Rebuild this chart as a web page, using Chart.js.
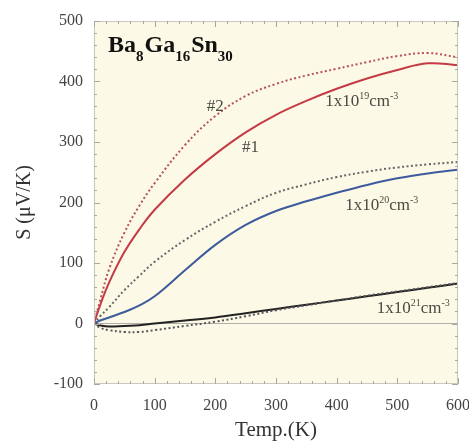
<!DOCTYPE html>
<html>
<head>
<meta charset="utf-8">
<script src="https://cdn.jsdelivr.net/npm/chart.js@4"></script>
<style>
  html, body { margin: 0; padding: 0; background: #fff; }
  #wrap { width: 469px; height: 445px; }
</style>
</head>
<body>
<div id="wrap"><canvas id="myChart" width="469" height="445"></canvas></div>
<script>
var temps = [0, 10, 25, 50, 75, 100, 150, 200, 250, 300, 350, 400, 450, 500, 550, 600];
var s19_1 = [0, 30, 68, 118, 156, 188, 238, 280, 316, 345, 368, 388, 405, 419, 430, 427];
var s19_2 = [0, 38, 90, 150, 195, 232, 295, 343, 376, 396, 410, 421, 432, 442, 447, 440];
var s20_1 = [0, 5, 10, 19, 30, 45, 88, 130, 163, 186, 202, 216, 229, 240, 248, 254];
var s20_2 = [0, 12, 27, 55, 79, 102, 138, 168, 194, 216, 230, 242, 251, 258, 263, 267];
var s21_1 = [0, -3, -5, -4, -3, 0, 5, 10, 17, 24, 31, 38, 45, 52, 59, 66];
var s21_2 = [0, -7, -11, -14, -14, -11, -4, 3, 12, 22, 30, 38, 46, 53, 60, 67];
var yTicks = [-100, 0, 100, 200, 300, 400, 500];
var xTicks = [0, 100, 200, 300, 400, 500, 600];

function pts(vals) {
  return temps.map(function (t, i) { return { x: t, y: vals[i] }; });
}

var serif = "'Liberation Serif', 'DejaVu Serif', serif";

// frame, background, inward ticks, title and curve labels
var decor = {
  id: "decor",
  beforeDraw: function (chart) {
    var a = chart.chartArea, c = chart.ctx;
    c.save();
    c.fillStyle = "#fcfae6";
    c.fillRect(a.left, a.top, a.right - a.left, a.bottom - a.top);
    c.restore();
  },
  afterDatasetsDraw: function (chart) {
    var a = chart.chartArea, c = chart.ctx;
    var xs = chart.scales.x, ys = chart.scales.y;
    c.save();
    c.strokeStyle = "#c8c8c0";
    c.lineWidth = 1;
    c.strokeRect(a.left + 0.5, a.top + 0.5, a.right - a.left - 1, a.bottom - a.top - 1);

    c.strokeStyle = "#a8a8a0";
    c.beginPath();
    for (var v = 0; v <= 600; v += 20) {
      var px = Math.round(xs.getPixelForValue(v)) + 0.5;
      var len = v % 100 === 0 ? 6 : 3;
      c.moveTo(px, a.bottom); c.lineTo(px, a.bottom - len);
      c.moveTo(px, a.top); c.lineTo(px, a.top + len);
    }
    for (var w = -100; w <= 500; w += 20) {
      var py = Math.round(ys.getPixelForValue(w)) + 0.5;
      var l2 = w % 100 === 0 ? 6 : 3;
      c.moveTo(a.left, py); c.lineTo(a.left + l2, py);
      c.moveTo(a.right, py); c.lineTo(a.right - l2, py);
    }
    c.stroke();

    // title with subscripts
    var x = 108, y = 52;
    var parts = [["Ba", 0], ["8", 1], ["Ga", 0], ["16", 1], ["Sn", 0], ["30", 1]];
    c.fillStyle = "#111";
    c.textBaseline = "alphabetic";
    parts.forEach(function (p) {
      c.font = "bold " + (p[1] ? 15 : 24) + "px " + serif;
      c.fillText(p[0], x, y + (p[1] ? 9 : 0));
      x += c.measureText(p[0]).width + (p[1] ? 1 : 0);
    });

    // curve labels, placed in data coordinates
    var labels = [
      { t: 186, s: 351, parts: [["#2", 0]] },
      { t: 244, s: 283, parts: [["#1", 0]] },
      { t: 381, s: 359, parts: [["1x10", 0], ["19", 1], ["cm", 0], ["-3", 1]] },
      { t: 414, s: 188, parts: [["1x10", 0], ["20", 1], ["cm", 0], ["-3", 1]] },
      { t: 466, s: 17, parts: [["1x10", 0], ["21", 1], ["cm", 0], ["-3", 1]] }
    ];
    c.fillStyle = "#4a4a44";
    labels.forEach(function (lb) {
      var lx = xs.getPixelForValue(lb.t), ly = ys.getPixelForValue(lb.s);
      lb.parts.forEach(function (p) {
        c.font = (p[1] ? 10 : 17) + "px " + serif;
        c.fillText(p[0], lx, ly - (p[1] ? 7 : 0));
        lx += c.measureText(p[0]).width;
      });
    });
    c.restore();
  }
};

new Chart("myChart", {
  type: "line",
  data: {
    datasets: [
      { data: pts(s19_2), borderColor: "#b8505a", borderWidth: 2, borderDash: [2, 2.5] },
      { data: pts(s19_1), borderColor: "#c43a46", borderWidth: 2 },
      { data: pts(s20_2), borderColor: "#66666a", borderWidth: 2, borderDash: [2, 2.5] },
      { data: pts(s20_1), borderColor: "#3d5b9c", borderWidth: 2 },
      { data: pts(s21_2), borderColor: "#55555a", borderWidth: 2, borderDash: [2, 2.5] },
      { data: pts(s21_1), borderColor: "#222222", borderWidth: 2 }
    ]
  },
  options: {
    responsive: false,
    animation: false,
    layout: { padding: { top: 21, right: 11, left: 0, bottom: 0 } },
    elements: {
      point: { radius: 0 },
      line: { tension: 0.4, fill: false }
    },
    plugins: {
      legend: { display: false },
      tooltip: { enabled: false }
    },
    scales: {
      x: {
        type: "linear",
        min: 0,
        max: 600,
        afterFit: function (s) { s.height = 61; s.paddingLeft = 0; s.paddingRight = 0; },
        afterBuildTicks: function (s) { s.ticks = xTicks.map(function (v) { return { value: v }; }); },
        grid: { display: false },
        border: { display: false },
        ticks: { padding: 4, color: "#444", font: { family: serif, size: 16 } },
        title: { display: true, text: "Temp.(K)", color: "#333", padding: { top: 0, bottom: 2 }, font: { family: serif, size: 21 } }
      },
      y: {
        min: -100,
        max: 500,
        afterFit: function (s) { s.width = 94; s.paddingTop = 0; s.paddingBottom = 0; },
        afterBuildTicks: function (s) { s.ticks = yTicks.map(function (v) { return { value: v }; }); },
        grid: {
          drawTicks: false,
          color: function (ctx) { return ctx.tick && ctx.tick.value === 0 ? "#b0b0a8" : "rgba(0,0,0,0)"; }
        },
        border: { display: false },
        ticks: { padding: 11, color: "#444", font: { family: serif, size: 16 } },
        title: { display: true, text: "S (\u03bcV/K)", color: "#333", padding: { top: 13, bottom: 0 }, font: { family: serif, size: 20 } }
      }
    }
  },
  plugins: [decor]
});
</script>
</body>
</html>
